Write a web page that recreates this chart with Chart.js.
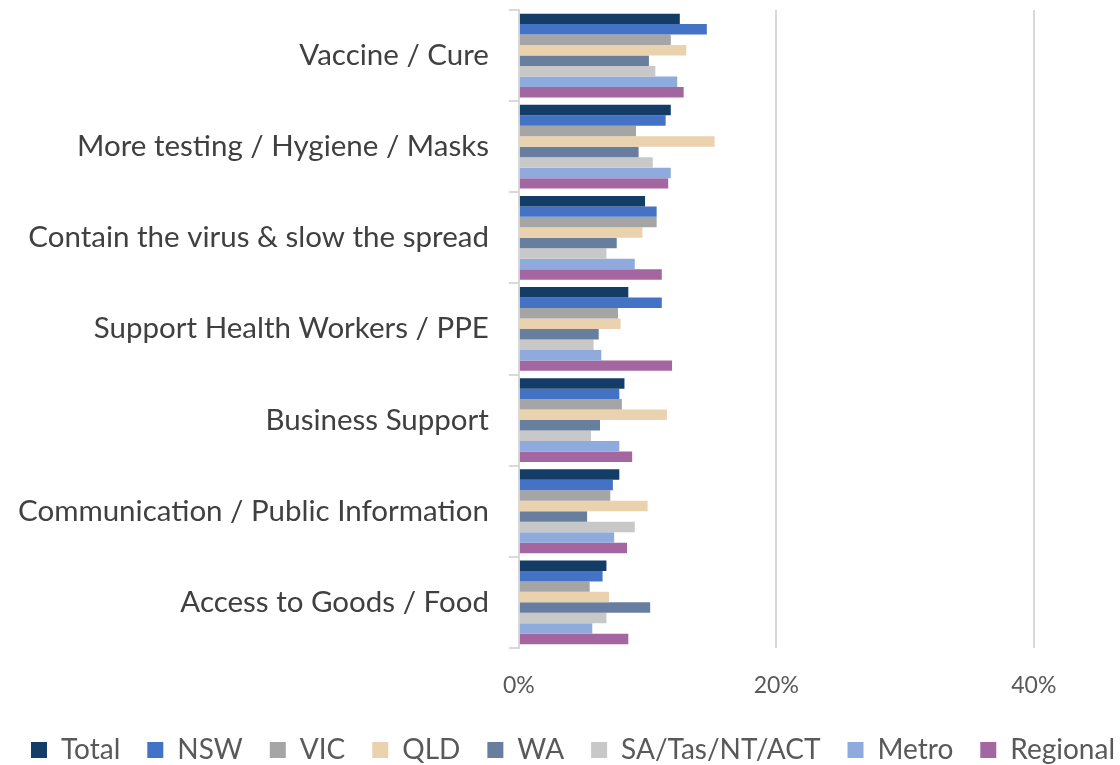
<!DOCTYPE html>
<html>
<head>
<meta charset="utf-8">
<script src="https://cdn.jsdelivr.net/npm/chart.js@4"></script>
<style>
  html, body { margin: 0; padding: 0; background: #fff; }
  #wrap { width: 1120px; height: 765px; }
</style>
</head>
<body>
<div id="wrap"><canvas id="chart" width="1120" height="765"></canvas></div>
<script>
// Kategorien und Werte (in %)
const categories = [
    "Vaccine / Cure",
    "More testing / Hygiene / Masks",
    "Contain the virus & slow the spread",
    "Support Health Workers / PPE",
    "Business Support",
    "Communication / Public Information",
    "Access to Goods / Food"
];
const seriesNames = ["Total", "NSW", "VIC", "QLD", "WA", "SA/Tas/NT/ACT", "Metro", "Regional"];
const seriesColors = ["#133C66", "#4472C4", "#A5A5A5", "#EAD2AE", "#687E9F", "#C9C8C8", "#8FAADC", "#A366A0"];

const total    = [12.5, 11.8,  9.8,  8.5,  8.2,  7.8,  6.8];
const nsw      = [14.6, 11.4, 10.7, 11.1,  7.8,  7.3,  6.5];
const vic      = [11.8,  9.1, 10.7,  7.7,  8.0,  7.1,  5.5];
const qld      = [13.0, 15.2,  9.6,  7.9, 11.5, 10.0,  7.0];
const wa       = [10.1,  9.3,  7.6,  6.2,  6.3,  5.3, 10.2];
const saTas    = [10.6, 10.4,  6.8,  5.8,  5.6,  9.0,  6.8];
const metro    = [12.3, 11.8,  9.0,  6.4,  7.8,  7.4,  5.7];
const regional = [12.8, 11.6, 11.1, 11.9,  8.8,  8.4,  8.5];

const xTicks = [0, 20, 40];

const seriesData = [total, nsw, vic, qld, wa, saTas, metro, regional];

const ctx = document.getElementById("chart").getContext("2d");
new Chart(ctx, {
    type: "bar",
    data: {
        labels: categories,
        datasets: seriesNames.map((name, i) => ({
            label: name,
            data: seriesData[i],
            backgroundColor: seriesColors[i],
            borderWidth: 0,
            barPercentage: 1.0,
            categoryPercentage: 0.92
        }))
    },
    options: {
        indexAxis: "y",
        responsive: false,
        animation: false,
        layout: { padding: { top: 10, right: -24, left: 2, bottom: -9 } },
        plugins: {
            tooltip: { enabled: false },
            legend: {
                position: "bottom",
                labels: {
                    boxWidth: 16,
                    boxHeight: 16,
                    padding: 27,
                    color: "#595959",
                    font: { family: "Lato", size: 28 }
                }
            }
        },
        scales: {
            x: {
                min: 0,
                max: 46.7,
                // nur 0, 20, 40 als Ticks
                afterBuildTicks: (scale) => {
                    scale.ticks = xTicks.map(v => ({ value: v }));
                },
                afterFit: (scale) => { scale.height -= 14.5; },
                ticks: {
                    color: "#595959",
                    font: { family: "Lato", size: 23 },
                    padding: 24,
                    callback: (v) => v + "%"
                },
                grid: {
                    color: (c) => c.tick && c.tick.value === 0 ? "rgba(0,0,0,0)" : "#D9D9D9",
                    lineWidth: 2,
                    drawTicks: false
                },
                border: { display: false }
            },
            y: {
                afterFit: (scale) => {
                    scale.paddingTop = 0;
                    scale.paddingBottom = 0;
                    scale.width -= 4;
                },
                ticks: {
                    color: "#404040",
                    font: { family: "Lato", size: 29.5 },
                    padding: 20
                },
                grid: {
                    offset: true,
                    drawOnChartArea: false,
                    drawTicks: true,
                    tickLength: 10,
                    color: "#D9D9D9",
                    lineWidth: 2
                },
                border: { display: true, color: "#D9D9D9", width: 2 }
            }
        }
    }
});
</script>
</body>
</html>
